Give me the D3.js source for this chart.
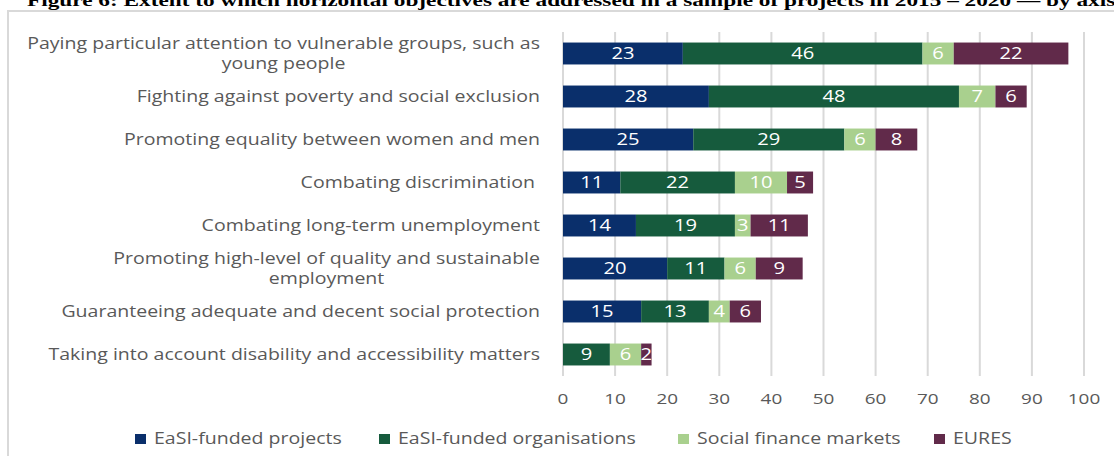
<!DOCTYPE html>
<html>
<head>
<meta charset="utf-8">
<script src="https://cdn.jsdelivr.net/npm/d3@7"></script>
<style>
  body { margin: 0; background: #fff; }
  text { font-family: "Open Sans", sans-serif; }
</style>
</head>
<body>
<div id="chart"></div>
<script>
var svgWidth = 1114;
var svgHeight = 456;

var leftEdge = 563;
var rightEdge = 1084;
var plotTop = 32;
var plotBottom = 376;
var stretch = 1.26; // the source figure is stretched sideways

var categories = [
    ['Paying particular attention to vulnerable groups, such as', 'young people'],
    ['Fighting against poverty and social exclusion'],
    ['Promoting equality between women and men'],
    ['Combating discrimination '],
    ['Combating long-term unemployment'],
    ['Promoting high-level of quality and sustainable', 'employment'],
    ['Guaranteeing adequate and decent social protection'],
    ['Taking into account disability and accessibility matters']
];

var seriesNames = ['EaSI-funded projects', 'EaSI-funded organisations', 'Social finance markets', 'EURES'];
var projects = [23, 28, 25, 11, 14, 20, 15, 0];
var organisations = [46, 48, 29, 22, 19, 11, 13, 9];
var socialFinance = [6, 7, 6, 10, 3, 6, 4, 6];
var eures = [22, 6, 8, 5, 11, 9, 6, 2];
var xTicks = [0, 10, 20, 30, 40, 50, 60, 70, 80, 90, 100];

var colors = ['#0a2f6b', '#165b3d', '#a9d08e', '#612a4a'];

var rows = categories.map(function(c, i) {
    return {
        key: i,
        'EaSI-funded projects': projects[i],
        'EaSI-funded organisations': organisations[i],
        'Social finance markets': socialFinance[i],
        'EURES': eures[i]
    };
});

var svg = d3.select('#chart')
    .append('svg')
    .attr('width', svgWidth)
    .attr('height', svgHeight);

// text placed at (x, y) and widened like the source
function stretchedText(parent, x, y, sx) {
    return parent.append('text')
        .attr('transform', `translate(${x}, ${y}) scale(${sx}, 1)`);
}

// title, cut off at the top as in the document page
stretchedText(svg, 27, 6, 1.37)
    .style('font-family', '"Liberation Serif", serif')
    .style('font-weight', 'bold')
    .style('font-size', '17px')
    .text('Figure 6: Extent to which horizontal objectives are addressed in a sample of projects in 2015 \u2013 2020 \u2014 by axis');

// frame
svg.append('rect')
    .attr('x', 8)
    .attr('y', 11)
    .attr('width', 1200)
    .attr('height', 500)
    .attr('fill', 'none')
    .attr('stroke', '#d9d9d9')
    .attr('stroke-width', 2);

var x = d3.scaleLinear().domain([0, 100]).range([leftEdge, rightEdge]);
var y = d3.scaleBand().domain(d3.range(categories.length)).range([plotTop, plotBottom]).paddingInner(0.49).paddingOuter(0.245);

// gridlines
svg.append('g')
    .selectAll('line')
    .data(xTicks)
    .enter()
    .append('line')
    .attr('x1', d => x(d))
    .attr('x2', d => x(d))
    .attr('y1', plotTop)
    .attr('y2', plotBottom)
    .attr('stroke', '#d9d9d9')
    .attr('stroke-width', 2);

// x tick labels
var tickGroup = svg.append('g');
xTicks.forEach(function(t) {
    stretchedText(tickGroup, x(t), 399, stretch)
        .attr('dy', '0.35em')
        .attr('text-anchor', 'middle')
        .attr('fill', '#595959')
        .style('font-size', '15px')
        .text(t);
});

var stack = d3.stack().keys(seriesNames);
var layers = stack(rows);

var layer = svg.append('g')
    .selectAll('g')
    .data(layers)
    .enter()
    .append('g')
    .attr('fill', (d, i) => colors[i]);

layer.selectAll('rect')
    .data(d => d)
    .enter()
    .append('rect')
    .attr('x', d => x(d[0]))
    .attr('width', d => x(d[1]) - x(d[0]))
    .attr('y', (d, i) => y(i))
    .attr('height', y.bandwidth());

layers.forEach(function(series, s) {
    series.forEach(function(d, i) {
        var v = d[1] - d[0];
        if (v <= 0) return;
        stretchedText(svg, (x(d[0]) + x(d[1])) / 2, y(i) + y.bandwidth() / 2, stretch)
            .attr('dy', '0.36em')
            .attr('text-anchor', 'middle')
            .attr('fill', '#fff')
            .style('font-size', '16px')
            .text(v);
    });
});

// category labels
var labelRight = 540;
var labelGroup = svg.append('g');
categories.forEach(function(lines, i) {
    var cy = y(i) + y.bandwidth() / 2;
    var first = stretchedText(labelGroup, labelRight, cy - (lines.length - 1) * 10, stretch)
        .attr('dy', '0.35em')
        .attr('text-anchor', 'end')
        .attr('fill', '#595959')
        .style('font-size', '15.5px')
        .style('white-space', 'pre')
        .text(lines[0]);
    if (lines.length > 1) {
        var w = first.node().getComputedTextLength() * stretch;
        stretchedText(labelGroup, labelRight - w / 2, cy + 10, stretch)
            .attr('dy', '0.35em')
            .attr('text-anchor', 'middle')
            .attr('fill', '#595959')
            .style('font-size', '15.5px')
            .text(lines[1]);
    }
});

// legend
var legendX = [135, 379, 678, 934];
var legend = svg.append('g');
seriesNames.forEach(function(name, i) {
    legend.append('rect')
        .attr('x', legendX[i])
        .attr('y', 434)
        .attr('width', 11)
        .attr('height', 10)
        .attr('fill', colors[i]);
    stretchedText(legend, legendX[i] + 19, 439, stretch)
        .attr('dy', '0.35em')
        .attr('fill', '#595959')
        .style('font-size', '15.5px')
        .text(name);
});
</script>
</body>
</html>
